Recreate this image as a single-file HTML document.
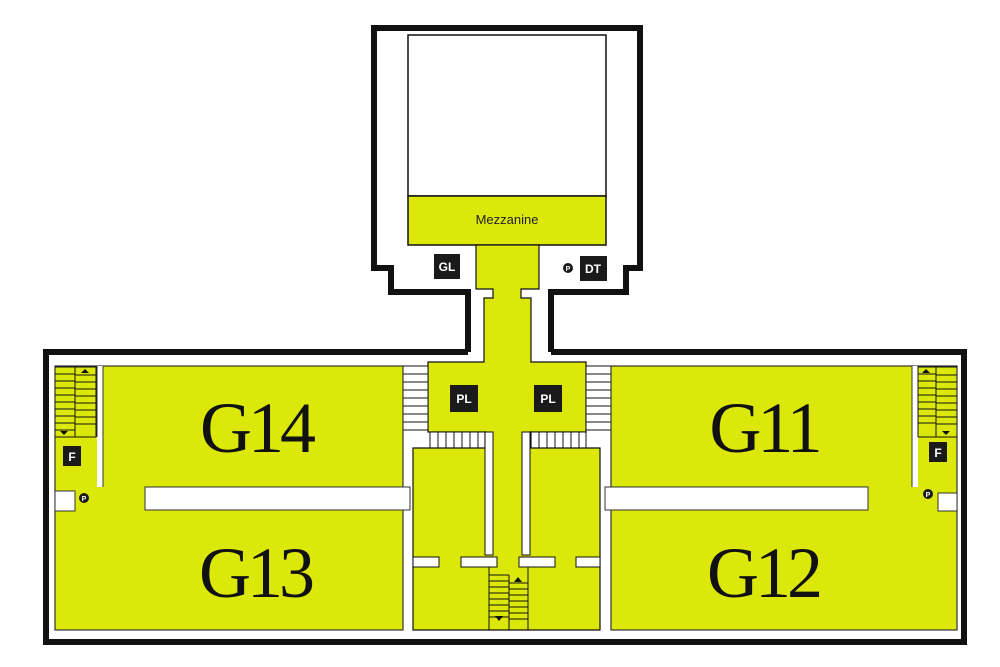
<!DOCTYPE html>
<html><head><meta charset="utf-8"><style>
html,body{margin:0;padding:0;background:#fff;}
svg{display:block;}
text{font-family:"Liberation Sans",sans-serif;}
.g{font-family:"Liberation Serif",serif;font-size:72px;fill:#111;letter-spacing:-4px;}
.lb{font-weight:bold;font-size:12px;fill:#fff;}
</style></head><body>
<svg width="1000" height="667" viewBox="0 0 1000 667" xmlns="http://www.w3.org/2000/svg">
<rect width="1000" height="667" fill="#fff"/>
<path d="M468 352 L468 292 L391 292 L391 268 L374 268 L374 28 L640 28 L640 268 L626 268 L626 292 L551 292 L551 352" fill="none" stroke="#111" stroke-width="6"/>
<path d="M468 352 L46 352 L46 642 L964 642 L964 352 L551 352" fill="none" stroke="#111" stroke-width="6"/>
<rect x="408" y="35" width="198" height="161" fill="#fff" stroke="#111" stroke-width="1.5"/>
<rect x="408" y="196" width="198" height="49" fill="#dce80a" stroke="#111" stroke-width="1.5"/>
<text x="507" y="224" font-size="13" text-anchor="middle" fill="#222">Mezzanine</text>
<path d="M476 245 L539 245 L539 289 L521 289 L521 298 L531 298 L531 362 L586 362 L586 432 L485 432 L428 432 L428 362 L484 362 L484 298 L493 298 L493 289 L476 289 Z" fill="#dce80a" stroke="#111" stroke-width="1.2"/>
<g stroke="#111" stroke-width="1" fill="#fff">
<rect x="403" y="366" width="25" height="64"/>
<rect x="586" y="366" width="25" height="64"/>
<rect x="430" y="432" width="55" height="16"/>
<rect x="531" y="432" width="55" height="16"/>
</g>
<g stroke="#111" stroke-width="1">
<path d="M403 374H428M403 382H428M403 390H428M403 398H428M403 406H428M403 414H428M403 422H428"/>
<path d="M586 374H611M586 382H611M586 390H611M586 398H611M586 406H611M586 414H611M586 422H611"/>
<path d="M438 432V448M446 432V448M454 432V448M462 432V448M470 432V448M478 432V448"/>
<path d="M539 432V448M547 432V448M555 432V448M563 432V448M571 432V448M579 432V448"/>
</g>
<path d="M413 448 L485 448 L485 432 L531 432 L531 448 L600 448 L600 630 L413 630 Z" fill="#dce80a" stroke="#111" stroke-width="1.2"/>
<rect x="486" y="428" width="44" height="130" fill="#dce80a"/>
<rect x="485" y="432" width="8" height="123" fill="#fff" stroke="#111"/>
<rect x="522" y="432" width="8" height="123" fill="#fff" stroke="#111"/>
<rect x="413" y="557" width="26" height="10" fill="#fff" stroke="#111"/>
<rect x="461" y="557" width="36" height="10" fill="#fff" stroke="#111"/>
<rect x="519" y="557" width="36" height="10" fill="#fff" stroke="#111"/>
<rect x="576" y="557" width="24" height="10" fill="#fff" stroke="#111"/>
<g stroke="#111" stroke-width="1" fill="none">
<path d="M489 567V630M528 567V630M509 575V630"/>
<path d="M489 575H509M489 581H509M489 587H509M489 593H509M489 599H509M489 605H509M489 611H509M489 617H509"/>
<path d="M509 583H528M509 589H528M509 595H528M509 601H528M509 607H528M509 613H528M509 619H528"/>
</g>
<path d="M514 582l4-5 4 5z" fill="#111"/><path d="M495 616l4 5 4-5z" fill="#111"/>
<!-- left wing -->
<rect x="55" y="366" width="348" height="264" fill="#dce80a" stroke="#333" stroke-width="1.2"/>
<rect x="97" y="366" width="6" height="121" fill="#fff"/>
<path d="M103 366V487M97 366V437" stroke="#333" fill="none"/>
<rect x="55" y="491" width="20" height="20" fill="#fff" stroke="#333"/>
<!-- right wing -->
<rect x="611" y="366" width="346" height="264" fill="#dce80a" stroke="#333" stroke-width="1.2"/>
<rect x="912" y="366" width="6" height="121" fill="#fff"/>
<path d="M912 366V487M918 366V437" stroke="#333" fill="none"/>
<rect x="938" y="493" width="19" height="18" fill="#fff" stroke="#333"/>
<rect x="145" y="487" width="265" height="23" fill="#fff" stroke="#333"/>
<rect x="605" y="487" width="263" height="23" fill="#fff" stroke="#333"/>
<g stroke="#111" stroke-width="1" fill="none">
<path d="M55 367H96M55 374H75M55 381H75M55 388H75M55 395H75M55 402H75M55 409H75M55 416H75M55 423H75M55 430H75M75 366V437M55 437H96M96 366V437"/>
<path d="M75 375H96M75 382H96M75 389H96M75 396H96M75 403H96M75 410H96M75 417H96M75 424H96"/>
<path d="M918 367H957M918 374H936M918 381H936M918 388H936M918 395H936M918 402H936M918 409H936M918 416H936M918 423H936M936 366V437M918 437H957M918 366V437"/>
<path d="M936 375H957M936 382H957M936 389H957M936 396H957M936 403H957M936 410H957M936 417H957M936 424H957"/>
</g>
<path d="M81 373l4-4 4 4z" fill="#111"/><path d="M60 431l4 4 4-4z" fill="#111"/>
<path d="M922 373l4-4 4 4z" fill="#111"/><path d="M942 431l4 4 4-4z" fill="#111"/>
<g fill="#1a1a1a">
<rect x="434" y="254" width="26" height="25"/>
<rect x="580" y="256" width="27" height="25"/>
<rect x="450" y="385" width="28" height="27"/>
<rect x="534" y="385" width="28" height="27"/>
<rect x="63" y="446" width="18" height="20"/>
<rect x="929" y="442" width="18" height="20"/>
<circle cx="568" cy="268" r="5"/>
<circle cx="84" cy="498" r="5"/>
<circle cx="928" cy="494" r="5"/>
</g>
<text class="lb" x="447" y="271" text-anchor="middle">GL</text>
<text class="lb" x="593" y="273" text-anchor="middle">DT</text>
<text class="lb" x="464" y="403" text-anchor="middle">PL</text>
<text class="lb" x="548" y="403" text-anchor="middle">PL</text>
<text class="lb" x="72" y="461" text-anchor="middle">F</text>
<text class="lb" x="938" y="457" text-anchor="middle">F</text>
<text x="568" y="271" font-size="7" font-weight="bold" fill="#fff" text-anchor="middle">P</text>
<text x="84" y="501" font-size="7" font-weight="bold" fill="#fff" text-anchor="middle">P</text>
<text x="928" y="497" font-size="7" font-weight="bold" fill="#fff" text-anchor="middle">P</text>
<text class="g" x="256" y="452" text-anchor="middle">G14</text>
<text class="g" x="255" y="597" text-anchor="middle">G13</text>
<text class="g" x="764" y="452" text-anchor="middle">G11</text>
<text class="g" x="763" y="597" text-anchor="middle">G12</text>
</svg>
</body></html>
